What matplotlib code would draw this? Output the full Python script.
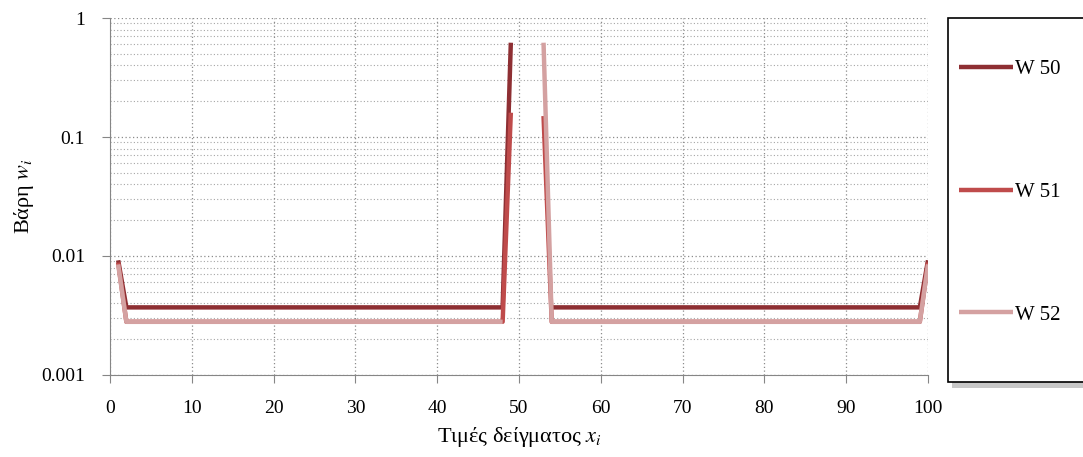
import numpy as np
import matplotlib.pyplot as plt
from matplotlib.patches import Rectangle
from matplotlib.ticker import LogLocator, NullFormatter

# sample positions 1..100
x = np.arange(1, 101)

# weights (nan = zero / not drawn on log scale)
nan = np.nan
w50 = [
    0.0092, 0.0037, 0.0037, 0.0037, 0.0037, 0.0037, 0.0037, 0.0037, 0.0037, 0.0037,
    0.0037, 0.0037, 0.0037, 0.0037, 0.0037, 0.0037, 0.0037, 0.0037, 0.0037, 0.0037,
    0.0037, 0.0037, 0.0037, 0.0037, 0.0037, 0.0037, 0.0037, 0.0037, 0.0037, 0.0037,
    0.0037, 0.0037, 0.0037, 0.0037, 0.0037, 0.0037, 0.0037, 0.0037, 0.0037, 0.0037,
    0.0037, 0.0037, 0.0037, 0.0037, 0.0037, 0.0037, 0.0037, 0.0037, 0.62, nan,
    nan, nan, nan, 0.0037, 0.0037, 0.0037, 0.0037, 0.0037, 0.0037, 0.0037,
    0.0037, 0.0037, 0.0037, 0.0037, 0.0037, 0.0037, 0.0037, 0.0037, 0.0037, 0.0037,
    0.0037, 0.0037, 0.0037, 0.0037, 0.0037, 0.0037, 0.0037, 0.0037, 0.0037, 0.0037,
    0.0037, 0.0037, 0.0037, 0.0037, 0.0037, 0.0037, 0.0037, 0.0037, 0.0037, 0.0037,
    0.0037, 0.0037, 0.0037, 0.0037, 0.0037, 0.0037, 0.0037, 0.0037, 0.0037, 0.0092,
]
w51 = [
    0.0088, 0.0028, 0.0028, 0.0028, 0.0028, 0.0028, 0.0028, 0.0028, 0.0028, 0.0028,
    0.0028, 0.0028, 0.0028, 0.0028, 0.0028, 0.0028, 0.0028, 0.0028, 0.0028, 0.0028,
    0.0028, 0.0028, 0.0028, 0.0028, 0.0028, 0.0028, 0.0028, 0.0028, 0.0028, 0.0028,
    0.0028, 0.0028, 0.0028, 0.0028, 0.0028, 0.0028, 0.0028, 0.0028, 0.0028, 0.0028,
    0.0028, 0.0028, 0.0028, 0.0028, 0.0028, 0.0028, 0.0028, 0.0028, 0.16, nan,
    nan, nan, 0.15, 0.0028, 0.0028, 0.0028, 0.0028, 0.0028, 0.0028, 0.0028,
    0.0028, 0.0028, 0.0028, 0.0028, 0.0028, 0.0028, 0.0028, 0.0028, 0.0028, 0.0028,
    0.0028, 0.0028, 0.0028, 0.0028, 0.0028, 0.0028, 0.0028, 0.0028, 0.0028, 0.0028,
    0.0028, 0.0028, 0.0028, 0.0028, 0.0028, 0.0028, 0.0028, 0.0028, 0.0028, 0.0028,
    0.0028, 0.0028, 0.0028, 0.0028, 0.0028, 0.0028, 0.0028, 0.0028, 0.0028, 0.0088,
]
w52 = [
    0.0085, 0.0028, 0.0028, 0.0028, 0.0028, 0.0028, 0.0028, 0.0028, 0.0028, 0.0028,
    0.0028, 0.0028, 0.0028, 0.0028, 0.0028, 0.0028, 0.0028, 0.0028, 0.0028, 0.0028,
    0.0028, 0.0028, 0.0028, 0.0028, 0.0028, 0.0028, 0.0028, 0.0028, 0.0028, 0.0028,
    0.0028, 0.0028, 0.0028, 0.0028, 0.0028, 0.0028, 0.0028, 0.0028, 0.0028, 0.0028,
    0.0028, 0.0028, 0.0028, 0.0028, 0.0028, 0.0028, 0.0028, 0.0028, nan, nan,
    nan, nan, 0.62, 0.0028, 0.0028, 0.0028, 0.0028, 0.0028, 0.0028, 0.0028,
    0.0028, 0.0028, 0.0028, 0.0028, 0.0028, 0.0028, 0.0028, 0.0028, 0.0028, 0.0028,
    0.0028, 0.0028, 0.0028, 0.0028, 0.0028, 0.0028, 0.0028, 0.0028, 0.0028, 0.0028,
    0.0028, 0.0028, 0.0028, 0.0028, 0.0028, 0.0028, 0.0028, 0.0028, 0.0028, 0.0028,
    0.0028, 0.0028, 0.0028, 0.0028, 0.0028, 0.0028, 0.0028, 0.0028, 0.0028, 0.0085,
]
series = [("W 50", w50, "#8e2f33"), ("W 51", w51, "#bf4b4b"), ("W 52", w52, "#d4a1a1")]
ytick_vals = [0.001, 0.01, 0.1, 1]
ytick_text = ["0.001", "0.01", "0.1", "1"]

plt.rcParams['font.family'] = ['Liberation Serif', 'DejaVu Serif']
plt.rcParams['mathtext.fontset'] = 'stix'

fig = plt.figure(figsize=(10.83, 4.57), dpi=100)
ax = fig.add_axes([110 / 1083, 1 - 375 / 457, (928 - 110) / 1083, (375 - 18) / 457])

lines = []
for name, vals, col in series:
    ln, = ax.plot(x, vals, color=col, lw=3.2, label=name, solid_capstyle='butt')
    lines.append(ln)

ax.set_yscale('log')
ax.set_ylim(0.001, 1)
ax.set_xlim(0, 100)
ax.set_xticks(range(0, 101, 10))
ax.yaxis.set_minor_locator(LogLocator(base=10, subs=np.arange(2, 10), numticks=10))
ax.yaxis.set_minor_formatter(NullFormatter())
ax.set_yticks(ytick_vals)
ax.set_yticklabels(ytick_text)

ax.grid(which='major', axis='both', color='#8c8c8c', ls=(0, (1, 2)), lw=0.9)
ax.grid(which='minor', axis='y', color='#a6a6a6', ls=(0, (1, 2)), lw=0.8)
ax.tick_params(which='minor', length=0)
ax.tick_params(which='major', direction='out', length=6, color='#868686',
               labelsize=14, pad=12)
for side in ['top', 'right']:
    ax.spines[side].set_visible(False)
for side in ['left', 'bottom']:
    ax.spines[side].set_color('#868686')
ax.set_axisbelow(True)

ax.set_xlabel(r"Τιμές δείγματος $x_i$", fontsize=16, labelpad=6)
ax.set_ylabel(r"Βάρη $w_i$", fontsize=16, labelpad=4)

# legend box with soft shadow
sh = Rectangle((952 / 1083, 1 - 388 / 457), 0.2, (388 - 24) / 457,
               transform=fig.transFigure, facecolor='#c8c8c8', edgecolor='none', zorder=1)
box = Rectangle((948 / 1083, 1 - 382 / 457), 0.2, (382 - 18) / 457,
                transform=fig.transFigure, facecolor='white', edgecolor='black', lw=1.2, zorder=2)
fig.patches.extend([sh, box])

fig.legend(lines, [s[0] for s in series], loc='upper left',
           bbox_to_anchor=(940 / 1083, 1 - 41 / 457), frameon=False,
           fontsize=15, handlelength=2.6, handletextpad=0.1, labelspacing=4.95)

fig.savefig("out.png", dpi=100)
